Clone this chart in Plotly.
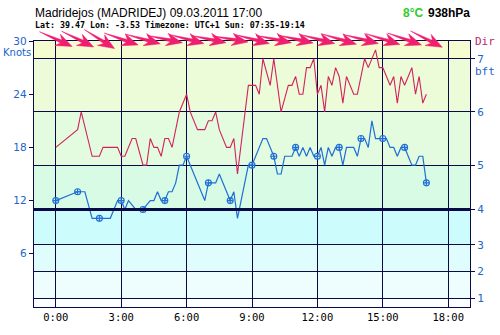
import math
import plotly.graph_objects as go

# Mean wind (knots) at its sample times
wind_times = ["0:00", "1:00", "1:20", "1:40", "2:00", "2:30", "2:50", "3:00", "3:10", "3:20",
              "3:40", "4:00", "4:20", "4:30", "4:40", "4:50", "5:00", "5:10", "5:20", "5:30",
              "5:40", "5:50", "6:00", "6:10", "6:20", "6:30", "6:40", "6:50", "7:00", "7:10",
              "7:20", "7:30", "7:40", "7:50", "8:00", "8:10", "8:20", "8:30", "8:40", "8:50",
              "9:00", "9:10", "9:20", "9:30", "9:40", "9:50", "10:00", "10:10", "10:20", "10:30",
              "10:40", "10:50", "11:00", "11:10", "11:20", "11:30", "11:40", "11:50", "12:00", "12:10",
              "12:20", "12:30", "12:40", "12:50", "13:00", "13:10", "13:20", "13:30", "13:40", "13:50",
              "14:00", "14:10", "14:20", "14:30", "14:40", "14:50", "15:00", "15:10", "15:20", "15:30",
              "15:40", "15:50", "16:00", "16:10", "16:20", "16:30", "16:40", "16:50", "17:00"]
wind_knots = [12, 13, 13, 10, 10, 10, 12, 12, 11, 12,
              11, 11, 12, 12, 13, 12, 12, 13, 13, 14,
              16, 16, 17, 16, 15, 14, 13, 12, 14, 14,
              14, 15, 14, 13, 12, 13, 10, 12, 14, 16,
              16, 17, 18, 19, 19, 18, 17, 15, 15, 17,
              17, 17, 18, 17, 18, 17, 18, 17, 17, 18,
              16, 18, 17, 18, 18, 16, 18, 18, 18, 17,
              19, 19, 18, 21, 19, 19, 19, 19, 18, 18,
              17, 18, 18, 17, 16, 16, 17, 17, 14]

# Gusts (knots)
gust_times = ["0:00", "1:00", "1:10", "1:40", "2:00", "2:10", "2:50", "3:00", "3:10", "3:30",
              "3:40", "4:00", "4:10", "4:20", "4:30", "4:40", "4:50", "5:00", "5:10", "5:20",
              "5:40", "6:00", "6:10", "6:20", "6:30", "6:50", "7:00", "7:10", "7:20", "7:30",
              "7:50", "8:00", "8:10", "8:20", "8:50", "9:00", "9:10", "9:20", "9:30", "9:50",
              "10:00", "10:20", "10:40", "10:50", "11:00", "11:10", "11:20", "11:30", "11:40", "11:50",
              "12:00", "12:10", "12:20", "12:30", "12:40", "12:50", "13:00", "13:10", "13:20", "13:40",
              "13:50", "14:10", "14:20", "14:40", "14:50", "15:00", "15:10", "15:20", "15:30", "15:40",
              "15:50", "16:00", "16:10", "16:20", "16:30", "16:40", "16:50", "17:00"]
gust_knots = [18, 20, 22, 17, 17, 18, 18, 17, 17, 19,
              19, 16, 16, 19, 18, 18, 17, 19, 19, 18,
              22, 24, 22, 21, 20, 20, 21, 21, 22, 20,
              18, 18, 19, 15, 25, 25, 25, 24, 28, 25,
              28, 22, 25, 25, 26, 24, 24, 27, 27, 28,
              24, 25, 22, 26, 25, 27, 26, 23, 26, 24,
              24, 28, 27, 29, 27, 27, 26, 25, 26, 23,
              26, 25, 26, 27, 24, 26, 23, 24]

# Hourly wind direction (degrees, direction the wind comes from)
dir_hours = list(range(18))
dir_deg = [295, 297, 303, 290, 286, 282, 285, 282, 280, 285,
           282, 283, 285, 287, 285, 288, 290, 298]

# Beaufort thresholds in knots and background bands
bft_knots = [1, 4, 7, 11, 16, 22, 28]
bft_labels = ["1", "2", "3", "4", "5", "6", "7"]
band_edges = [0, 1, 4, 7, 11, 16, 22, 28, 30]
band_colors = ["#fbffff", "#eefefe", "#dffdfd", "#ccfcfc",
               "#d8fbe6", "#e3fbde", "#edfcd8", "#f5fcd0"]

hour_ticks = [0, 3, 6, 9, 12, 15, 18]
hour_labels = ["0:00", "3:00", "6:00", "9:00", "12:00", "15:00", "18:00"]
knot_ticks = [6, 12, 18, 24, 30]

NAVY = "#0a0a48"
BLUE = "#1f6fd6"
CRIMSON = "#d2225e"
ARROW = "#f01e6e"
LABEL_BLUE = "#2064cc"

X_RANGE = [-1, 19]
W, H = 500, 335
M = dict(l=34, r=30, t=41, b=19)
plot_w = W - M["l"] - M["r"]
plot_h = H - M["t"] - M["b"]


def to_hours(t):
    h, m = t.split(":")
    return int(h) + int(m) / 60.0


fig = go.Figure()

fig.add_trace(go.Scatter(
    x=[to_hours(t) for t in gust_times], y=gust_knots, mode="lines",
    line=dict(color=CRIMSON, width=1.1), hoverinfo="skip", showlegend=False))

fig.add_trace(go.Scatter(
    x=[to_hours(t) for t in wind_times], y=wind_knots, mode="lines",
    line=dict(color=BLUE, width=1.2), hoverinfo="skip", showlegend=False))

hourly = [(to_hours(t), v) for t, v in zip(wind_times, wind_knots) if t.endswith(":00")]
fig.add_trace(go.Scatter(
    x=[p[0] for p in hourly], y=[p[1] for p in hourly], mode="markers",
    marker=dict(symbol="circle-cross-open", size=6, color=BLUE, line=dict(width=1.1)),
    hoverinfo="skip", showlegend=False))

# invisible trace to activate the right-hand Beaufort axis
fig.add_trace(go.Scatter(x=[None], y=[None], yaxis="y2", showlegend=False, hoverinfo="skip"))

shapes = []
for lo, hi, col in zip(band_edges[:-1], band_edges[1:], band_colors):
    shapes.append(dict(type="rect", xref="paper", yref="y", x0=0, x1=1, y0=lo, y1=hi,
                       fillcolor=col, line=dict(width=0), layer="below"))
shapes.append(dict(type="line", xref="paper", yref="y", x0=0, x1=1, y0=11, y1=11,
                   line=dict(color=NAVY, width=3), layer="above"))

# direction arrows along the top edge, one per hour
px_per_hour = plot_w / (X_RANGE[1] - X_RANGE[0])
outline = [(-18, 0), (6, -1.6), (2, -6.5), (18, 0), (2, 6.5), (6, 1.6)]
for h, d in zip(dir_hours, dir_deg):
    to = math.radians((d + 180) % 360)
    ex, ey = math.sin(to), math.cos(to)
    nx, ny = -ey, ex
    pts = []
    for u, v in outline:
        px = u * ex + v * nx
        py = u * ey + v * ny
        pts.append((h + px / px_per_hour, 1 + (py + 2) / plot_h))
    path = "M " + " L ".join(f"{x:.4f},{y:.4f}" for x, y in pts) + " Z"
    shapes.append(dict(type="path", xref="x", yref="paper", path=path,
                       fillcolor=ARROW, line=dict(color=ARROW, width=0.5), layer="above"))

annotations = [
    dict(text="Madridejos (MADRIDEJ) 09.03.2011 17:00", xref="paper", yref="paper",
         x=-0.003, y=(H - M["b"] - 12) / plot_h, xanchor="left", yanchor="middle", showarrow=False,
         font=dict(family="Liberation Sans", size=12, color="#000000")),
    dict(text="<b>Lat: 39.47 Lon: -3.53 Timezone: UTC+1 Sun: 07:35-19:14</b>", xref="paper", yref="paper",
         x=-0.003, y=(H - M["b"] - 24) / plot_h, xanchor="left", yanchor="middle", showarrow=False,
         font=dict(family="DejaVu Sans Mono", size=8.3, color="#000000")),
    dict(text="<b>8°C</b>", xref="paper", yref="paper",
         x=(401 - M["l"]) / plot_w, y=(H - M["b"] - 12) / plot_h, xanchor="left", yanchor="middle",
         showarrow=False, font=dict(family="Liberation Sans", size=12, color="#2ecc2e")),
    dict(text="<b>938hPa</b>", xref="paper", yref="paper",
         x=(426 - M["l"]) / plot_w, y=(H - M["b"] - 12) / plot_h, xanchor="left", yanchor="middle",
         showarrow=False, font=dict(family="Liberation Sans", size=12, color="#000000")),
    dict(text="Knots", xref="paper", yref="paper",
         x=(33 - M["l"]) / plot_w, y=(H - M["b"] - 53) / plot_h, xanchor="right", yanchor="middle",
         showarrow=False, font=dict(family="DejaVu Sans", size=10, color=LABEL_BLUE)),
    dict(text="bft", xref="paper", yref="paper",
         x=(473 - M["l"]) / plot_w, y=(H - M["b"] - 73) / plot_h, xanchor="left", yanchor="middle",
         showarrow=False, font=dict(family="DejaVu Sans Mono", size=11, color=LABEL_BLUE)),
    dict(text="Dir", xref="paper", yref="paper",
         x=(473 - M["l"]) / plot_w, y=(H - M["b"] - 41) / plot_h, xanchor="left", yanchor="middle",
         showarrow=False, font=dict(family="DejaVu Sans Mono", size=11, color="#b8286c")),
]

fig.update_layout(
    width=W, height=H, margin=M,
    paper_bgcolor="#ffffff", plot_bgcolor="#ffffff",
    showlegend=False,
    shapes=shapes, annotations=annotations,
    xaxis=dict(range=X_RANGE, tickvals=hour_ticks, ticktext=hour_labels,
               showgrid=True, gridcolor=NAVY, gridwidth=1.4, zeroline=False,
               showline=True, mirror=True, linecolor=NAVY, linewidth=1.4,
               ticks="", tickfont=dict(family="DejaVu Sans Mono", size=10.5, color="#000000")),
    yaxis=dict(range=[0, 30], tickvals=knot_ticks, showgrid=False, zeroline=False,
               showline=True, mirror=True, linecolor=NAVY, linewidth=1.4,
               ticks="outside", ticklen=4, tickcolor=NAVY, tickwidth=1,
               tickfont=dict(family="DejaVu Sans", size=10.5, color=LABEL_BLUE)),
    yaxis2=dict(range=[0, 30], overlaying="y", side="right", tickvals=bft_knots, ticktext=bft_labels,
                showgrid=True, gridcolor=NAVY, gridwidth=1.4, zeroline=False, showline=False,
                ticks="outside", ticklen=4, tickcolor=NAVY, tickwidth=1,
                tickfont=dict(family="DejaVu Sans Mono", size=11, color=LABEL_BLUE)),
)

fig.write_html("out.html")
